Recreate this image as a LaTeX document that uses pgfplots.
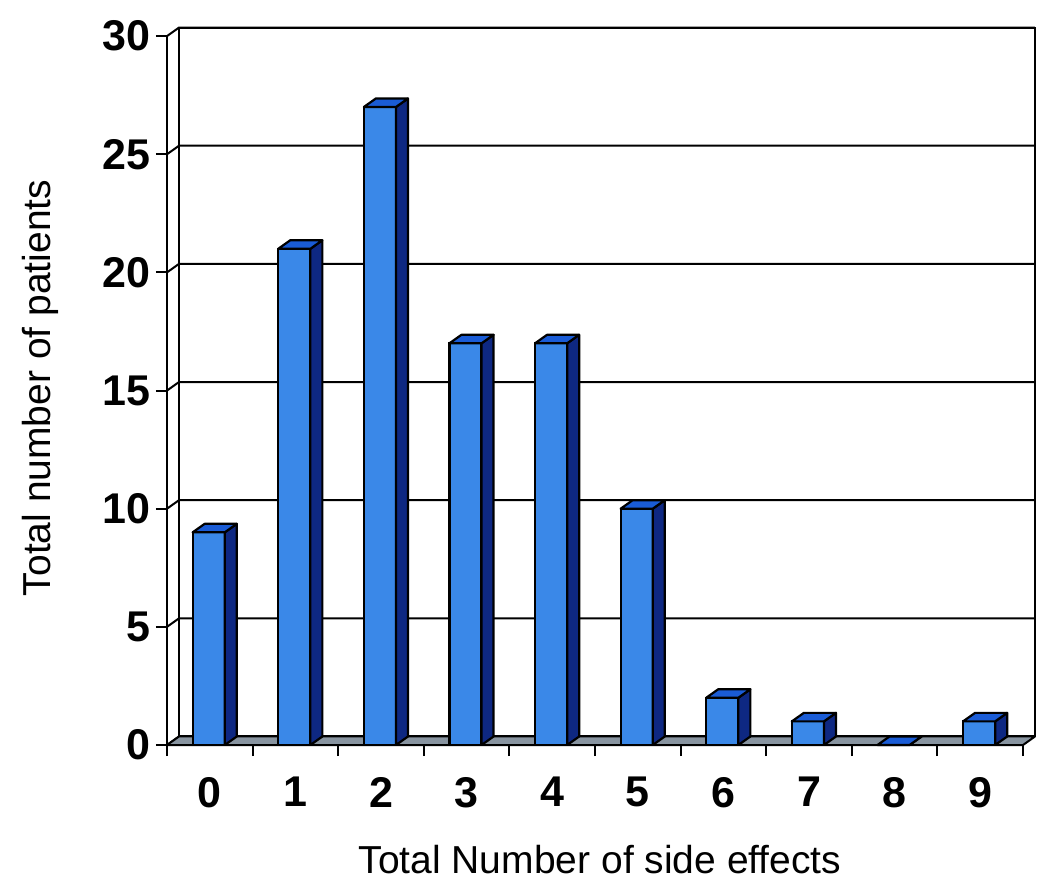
\documentclass[border=0pt]{standalone}
\usepackage{pgfplots}
\pgfplotsset{compat=1.18}
\usepackage{pgfplotstable}
\usepackage{fontspec}
\setmainfont{Liberation Sans}
\definecolor{barfront}{RGB}{58,136,232}
\definecolor{barside}{RGB}{14,40,130}
\definecolor{bartop}{RGB}{26,92,214}
\definecolor{floorgray}{RGB}{136,148,160}
\pgfplotstableread{
x v
0 9
1 21
2 27
3 17
4 17
5 10
6 2
7 1
8 0
9 1
}\datatable
\begin{document}
\begin{tikzpicture}
\path[use as bounding box] (-83.5pt,-70pt) rectangle (441.5pt,372.5pt);
\begin{axis}[
  at={(0pt,0pt)}, anchor=south west,
  x=42.8pt, y=11.815pt,
  xmin=0, xmax=10, ymin=0, ymax=30,
  clip=false,
  axis x line*=bottom, axis y line*=left,
  axis line style={-, line width=1pt, black},
  tick align=outside,
  major tick length=5.5pt,
  tick style={line width=1pt, black},
  ytick={0,5,10,15,20,25,30},
  xtick={0,1,2,3,4,5,6,7,8,9,10},
  xticklabels={0,1,2,3,4,5,6,7,8,9},
  x tick label as interval,
  ticklabel style={font=\fontsize{21.5}{25}\selectfont\bfseries},
  /pgf/number format/assume math mode=true,
  yticklabel style={inner sep=2.5pt},
  xticklabel style={yshift=-7pt},
  xlabel={Total Number of side effects},
  ylabel={Total number of patients},
  label style={font=\fontsize{19.5}{24}\selectfont},
  xlabel style={at={(axis description cs:0.5058,-0.1617)}, anchor=center},
  ylabel style={at={(axis description cs:-0.1480,0.5036)}, anchor=center},
]
% back wall
\draw[fill=white, line width=1pt] (axis cs:0.14,0.36) rectangle (axis cs:10.14,30.36);
\pgfplotsinvokeforeach{0,5,10,15,20,25,30}{
  \draw[line width=1pt] (axis cs:0,#1) -- (axis cs:0.14,#1.36) -- (axis cs:10.14,#1.36);
}
% floor
\draw[fill=floorgray, line width=1pt, line join=round] (axis cs:0,0) -- (axis cs:10,0) -- (axis cs:10.14,0.36) -- (axis cs:0.14,0.36) -- cycle;
% front faces
\addplot[ybar, bar width=0.375, bar shift=0pt, fill=barfront, draw=black, line width=1.1pt]
  table[x expr=\thisrow{x}+0.4875, y=v]{\datatable};
% side and top faces
\pgfplotsforeachungrouped \r in {0,...,9}{%
  \pgfplotstablegetelem{\r}{v}\of\datatable
  \let\val\pgfplotsretval
  \pgfmathsetmacro\xa{\r+0.30}%
  \pgfmathsetmacro\xb{\r+0.675}%
  \pgfmathsetmacro\xc{\r+0.815}%
  \pgfmathsetmacro\xd{\r+0.44}%
  \pgfmathsetmacro\vt{\val+0.36}%
  \edef\temp{\noexpand\addplot[fill=barside, draw=black, line width=1.1pt, line join=round] coordinates {(\xb,0) (\xc,0.36) (\xc,\vt) (\xb,\val)} -- cycle;
    \noexpand\addplot[fill=bartop, draw=black, line width=1.1pt, line join=round] coordinates {(\xa,\val) (\xb,\val) (\xc,\vt) (\xd,\vt)} -- cycle;}%
  \temp
}
\end{axis}
\end{tikzpicture}
\end{document}
